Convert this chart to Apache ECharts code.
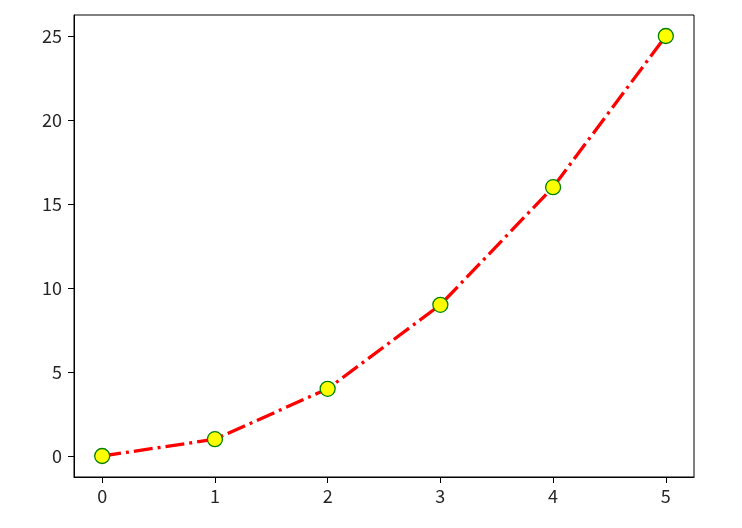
<!DOCTYPE html>
<html><head><meta charset="utf-8">
<script src="https://cdn.jsdelivr.net/npm/echarts@6/dist/echarts.min.js"></script>
<style>html,body{margin:0;padding:0;background:#fff}#c{width:742px;height:528px}</style>
</head><body><div id="c"></div>
<script>
const xValues = [0, 1, 2, 3, 4, 5];
const yValues = [0, 1, 4, 9, 16, 25];
const xTicks = [0, 1, 2, 3, 4, 5];
const yTicks = [0, 5, 10, 15, 20, 25];

const chart = echarts.init(document.getElementById('c'), null, {renderer: 'canvas'});
const font = '"Noto Sans CJK SC", "Noto Sans", sans-serif';
const axisCommon = {
  axisLine: {show: true, onZero: false, lineStyle: {color: '#000', width: 1}},
  splitLine: {show: false},
};
chart.setOption({
  animation: false,
  backgroundColor: '#fff',
  grid: {left: 74, right: 48, top: 15, bottom: 51, show: true, borderColor: '#000', borderWidth: 1, backgroundColor: 'transparent'},
  xAxis: Object.assign({
    type: 'value', min: -0.25, max: 5.25,
    axisLabel: {customValues: xTicks, color: '#262626', fontSize: 18, fontFamily: font, margin: 10},
    axisTick: {show: true, length: 6, customValues: xTicks, lineStyle: {color: '#000', width: 1}}
  }, axisCommon),
  yAxis: Object.assign({
    type: 'value', min: -1.25, max: 26.25,
    axisLabel: {customValues: yTicks, color: '#262626', fontSize: 18, fontFamily: font, margin: 12},
    axisTick: {show: true, length: 6, customValues: yTicks, lineStyle: {color: '#000', width: 1}}
  }, axisCommon),
  series: [{
    type: 'line',
    data: xValues.map((x, i) => [x, yValues[i]]),
    lineStyle: {color: '#ff0000', width: 3.3, type: [19, 5, 3, 5], cap: 'butt'},
    symbol: 'circle',
    symbolSize: 15,
    itemStyle: {color: '#ffff00', borderColor: '#008000', borderWidth: 1.3},
    z: 3
  }]
});
</script></body></html>
